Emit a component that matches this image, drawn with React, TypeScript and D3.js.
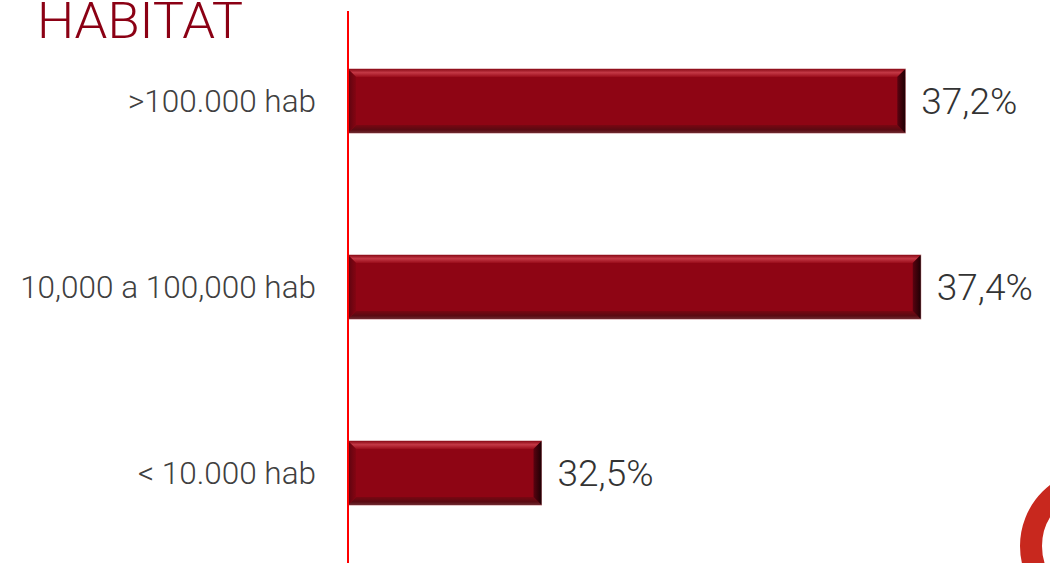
import React from "react";
import * as d3 from "d3";

const categories = [">100.000 hab", "10,000 a 100,000 hab", "< 10.000 hab"];
const values = [37.2, 37.4, 32.5];
const valueLabels = ["37,2%", "37,4%", "32,5%"];
const title = "HABITAT";

const W = 1050;
const H = 563;

export default function App() {
  const x = d3.scaleLinear().domain([30, 40]).range([348, 1122]);
  const y = d3.scalePoint<string>().domain(categories).range([101, 473]);
  const bh = 64;
  const bv = 8;
  const font = "Roboto, 'Noto Sans', sans-serif";

  return (
    <svg width={W} height={H} style={{ position: "absolute", left: 0, top: 0, background: "#fff" }}>
      <defs>
        <linearGradient id="topBev" x1="0" y1="0" x2="0" y2="1">
          <stop offset="0" stopColor="#8a0a16" />
          <stop offset="0.45" stopColor="#c33845" />
          <stop offset="1" stopColor="#9a0c1a" />
        </linearGradient>
        <linearGradient id="botBev" x1="0" y1="0" x2="0" y2="1">
          <stop offset="0" stopColor="#7a0712" />
          <stop offset="0.6" stopColor="#5a0a12" />
          <stop offset="1" stopColor="#6e2a30" />
        </linearGradient>
        <linearGradient id="leftBev" x1="0" y1="0" x2="1" y2="0">
          <stop offset="0" stopColor="#5e0410" />
          <stop offset="1" stopColor="#850512" />
        </linearGradient>
        <linearGradient id="rightBev" x1="0" y1="0" x2="1" y2="0">
          <stop offset="0" stopColor="#5a0310" />
          <stop offset="1" stopColor="#1e0004" />
        </linearGradient>
      </defs>

      <text x={37} y={38} fill="#8b0014" fontFamily={font} fontWeight={300} fontSize={50} textLength={206} lengthAdjust="spacingAndGlyphs">
        {title}
      </text>

      {categories.map((c, i) => {
        const x0 = x(30);
        const x1 = x(values[i]);
        const cy = y(c)!;
        const y0 = cy - bh / 2;
        const y1 = cy + bh / 2;
        return (
          <g key={c}>
            <rect x={x0} y={y0} width={x1 - x0} height={bh} fill="#8e0514" stroke="#c98a90" strokeWidth={1} />
            <polygon points={`${x0},${y0} ${x1},${y0} ${x1 - bv},${y0 + bv} ${x0 + bv},${y0 + bv}`} fill="url(#topBev)" />
            <polygon points={`${x0},${y1} ${x1},${y1} ${x1 - bv},${y1 - bv} ${x0 + bv},${y1 - bv}`} fill="url(#botBev)" />
            <polygon points={`${x0},${y0} ${x0 + bv},${y0 + bv} ${x0 + bv},${y1 - bv} ${x0},${y1}`} fill="url(#leftBev)" />
            <polygon points={`${x1},${y0} ${x1 - bv},${y0 + bv} ${x1 - bv},${y1 - bv} ${x1},${y1}`} fill="url(#rightBev)" />
            <text x={316} y={cy} dy="0.35em" textAnchor="end" fill="#404040" fontFamily={font} fontWeight={300} fontSize={31.5}>
              {c}
            </text>
            <text x={x1 + 16} y={cy} dy="0.36em" fill="#333" fontFamily={font} fontWeight={300} fontSize={37}>
              {valueLabels[i]}
            </text>
          </g>
        );
      })}

      <line x1={348} x2={348} y1={11} y2={H} stroke="#ff0000" strokeWidth={2} />

      <circle cx={1097} cy={546} r={66} fill="none" stroke="#c8281e" strokeWidth={22} />
    </svg>
  );
}
